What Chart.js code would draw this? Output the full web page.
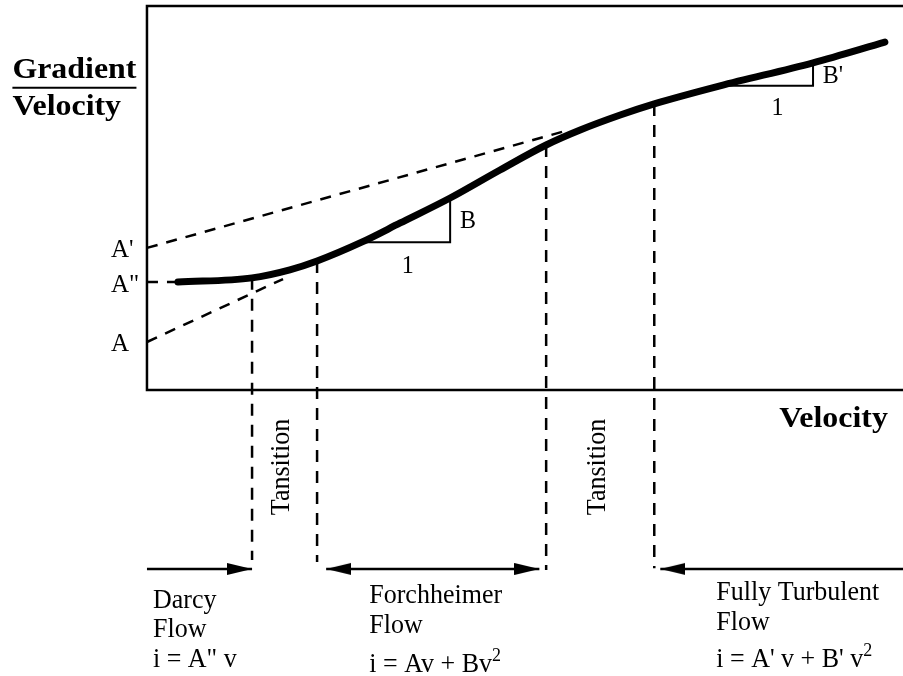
<!DOCTYPE html>
<html>
<head>
<meta charset="utf-8">
<script src="https://cdn.jsdelivr.net/npm/chart.js@4/dist/chart.umd.min.js"></script>
<style>
  html, body { margin: 0; padding: 0; background: #fff; }
  canvas { display: block; }
</style>
</head>
<body>
<canvas id="flow" width="903" height="676"></canvas>
<script>
// Gradient/velocity ratio against velocity, schematic units (0-100 on both axes)
const velocity            = [4.1, 13.9, 18.9, 22.5, 28.4, 33.5, 40.1, 46.7, 52.8, 57.3, 62.6, 67.1, 75.8, 88.1, 97.6];
const gradientPerVelocity = [28.1, 29.2, 31.3, 33.6, 38.5, 43.5, 50.0, 57.3, 63.8, 67.7, 71.6, 74.5, 79.2, 85.2, 90.6];

// Intercepts of the straight asymptotes on the vertical axis, and where each dashed line stops
const interceptNames  = ["A'", 'A"', 'A'];
const interceptValues = [37.0, 28.1, 12.5];
const asymptoteEndX   = [55.6, 4.0, 18.0];
const asymptoteEndY   = [67.6, 28.1, 28.9];

// Regime boundaries: index of the curve point each dashed drop line starts from, and its foot
const boundaryIndex = [1, 3, 8, 11];
const boundaryFoot  = [-44.3, -44.8, -46.9, -46.4];

// Slope triangles: run from one curve point to another
const slopeNames = ['B', "B'"];
const slopeFrom  = [4, 12];
const slopeTo    = [6, 13];

// Regime arrows below the velocity axis
const arrowRow      = -46.6;
const arrowFrom     = [0, 23.7, 100];
const arrowTo       = [13.9, 51.9, 67.9];
const arrowBothEnds = [false, true, false];

// Regime captions
const regimeNames     = ['Darcy', 'Forchheimer', 'Fully Turbulent'];
const regimeEquations = [
  [['i = A" v']],
  [['i = Av + Bv'], ['2', true]],
  [["i = A' v + B' v"], ['2', true]]
];
const transitionText = 'Tansition';

// ---------------------------------------------------------------------------
const SERIF = '"Liberation Serif", "Times New Roman", Times, serif';
const INK = '#000';

function arrowHead(len, half) {
  // tip sits at the centre of the image so the point position is the tip
  const c = document.createElement('canvas');
  c.width = len * 2;
  c.height = half * 2 + 2;
  const g = c.getContext('2d');
  g.fillStyle = INK;
  g.beginPath();
  g.moveTo(0, 1);
  g.lineTo(len, half + 1);
  g.lineTo(0, half * 2 + 1);
  g.closePath();
  g.fill();
  return c;
}
const head = arrowHead(25, 6);

const pt = (x, y) => ({ x, y });
const datasets = [];

// axis frame: top, left and bottom edges
datasets.push({
  data: [pt(100, 100), pt(0, 100), pt(0, 0), pt(100, 0)],
  borderColor: INK, borderWidth: 2.5, showLine: true, pointRadius: 0,
  borderJoinStyle: 'miter'
});

// dashed asymptotes
interceptValues.forEach((v, i) => {
  datasets.push({
    data: [pt(0, v), pt(asymptoteEndX[i], asymptoteEndY[i])],
    borderColor: INK, borderWidth: 2.5, borderDash: [11, 9], showLine: true, pointRadius: 0
  });
});

// dashed regime boundaries
boundaryIndex.forEach((idx, k) => {
  datasets.push({
    data: [pt(velocity[idx], gradientPerVelocity[idx]), pt(velocity[idx], boundaryFoot[k])],
    borderColor: INK, borderWidth: 2.5, borderDash: [12, 9], showLine: true, pointRadius: 0
  });
});

// slope triangles
slopeFrom.forEach((f, k) => {
  const t = slopeTo[k];
  datasets.push({
    data: [pt(velocity[f], gradientPerVelocity[f]), pt(velocity[t], gradientPerVelocity[f]), pt(velocity[t], gradientPerVelocity[t])],
    borderColor: INK, borderWidth: 2, showLine: true, pointRadius: 0, borderJoinStyle: 'miter'
  });
});

// the measured curve
datasets.push({
  data: velocity.map((v, i) => pt(v, gradientPerVelocity[i])),
  borderColor: INK, borderWidth: 7, showLine: true, pointRadius: 0,
  cubicInterpolationMode: 'monotone', borderCapStyle: 'round', borderJoinStyle: 'round'
});

// regime arrows
const heads = [], headRot = [];
arrowFrom.forEach((from, i) => {
  const to = arrowTo[i];
  datasets.push({
    data: [pt(from, arrowRow), pt(to, arrowRow)],
    borderColor: INK, borderWidth: 2.5, showLine: true, pointRadius: 0
  });
  heads.push(pt(to, arrowRow));
  headRot.push(to > from ? 0 : 180);
  if (arrowBothEnds[i]) {
    heads.push(pt(from, arrowRow));
    headRot.push(to > from ? 180 : 0);
  }
});
datasets.push({
  data: heads, showLine: false, pointStyle: head, pointRadius: 6,
  rotation: headRot, pointRotation: headRot
});

// ---------------------------------------------------------------------------
// text placed in data coordinates; bold titles are set wide, body text slightly tall
const BOLD = { size: 29, bold: true, sx: 1.1, sy: 1 };
const BODY = { sx: 1, sy: 1.05 };
const texts = [
  { ...BOLD, runs: [['Gradient']], x: -17.8, y: 81.2, underline: true },
  { ...BOLD, runs: [['Velocity']], x: -17.8, y: 71.6 },
  { ...BOLD, runs: [['Velocity']], x: 98.0, y: -9.6, align: 'right' },
  { ...BODY, runs: [[slopeNames[0]]], x: 41.4, y: 42.2, size: 24 },
  { ...BODY, runs: [['1']], x: 34.5, y: 30.5, size: 24, align: 'center' },
  { ...BODY, runs: [[slopeNames[1]]], x: 89.4, y: 79.9, size: 24 },
  { ...BODY, runs: [['1']], x: 83.4, y: 71.6, size: 24, align: 'center' },
  { ...BODY, runs: [[transitionText]], x: 18.8, y: -32.6, size: 26, rotate: true },
  { ...BODY, runs: [[transitionText]], x: 60.6, y: -32.6, size: 26, rotate: true }
];
interceptNames.forEach((n, i) => {
  texts.push({ ...BODY, runs: [[n]], x: -4.76, y: interceptValues[i], size: 25, pxDown: 9.5 });
});
const captionX = [0.79, 29.4, 75.3];
const captionY = [[-56.8, -64.3, -72.1], [-55.4, -63.4, -73.4], [-54.7, -62.5, -72.1]];
regimeNames.forEach((n, i) => {
  texts.push({ ...BODY, runs: [[n]], x: captionX[i], y: captionY[i][0], size: 26 });
  texts.push({ ...BODY, runs: [['Flow']], x: captionX[i], y: captionY[i][1], size: 26 });
  texts.push({ ...BODY, runs: regimeEquations[i], x: captionX[i], y: captionY[i][2], size: 26 });
});

const textPlugin = {
  id: 'flowText',
  afterDatasetsDraw(chart) {
    const { ctx, scales } = chart;
    ctx.save();
    ctx.fillStyle = INK;
    ctx.strokeStyle = INK;
    ctx.textBaseline = 'alphabetic';
    texts.forEach(t => {
      const px = scales.x.getPixelForValue(t.x);
      const py = scales.y.getPixelForValue(t.y) + (t.pxDown || 0);
      const mainFont = (t.bold ? 'bold ' : '') + t.size + 'px ' + SERIF;
      const supFont = Math.round(t.size * 0.7) + 'px ' + SERIF;
      let total = 0;
      const widths = t.runs.map(([s, sup]) => {
        ctx.font = sup ? supFont : mainFont;
        const w = ctx.measureText(s).width;
        total += w;
        return w;
      });
      ctx.save();
      ctx.translate(px, py);
      if (t.rotate) ctx.rotate(-Math.PI / 2);
      ctx.scale(t.sx, t.sy);
      let cx = 0;
      if (t.align === 'right') cx = -total;
      else if (t.align === 'center') cx = -total / 2;
      const start = cx;
      t.runs.forEach(([s, sup], k) => {
        ctx.font = sup ? supFont : mainFont;
        ctx.textAlign = 'left';
        ctx.fillText(s, cx, sup ? -t.size * 0.4 : 0);
        cx += widths[k];
      });
      if (t.underline) {
        ctx.lineWidth = 2;
        ctx.beginPath();
        ctx.moveTo(start, 9.5);
        ctx.lineTo(start + total, 9.5);
        ctx.stroke();
      }
      ctx.restore();
    });
    ctx.restore();
  }
};

new Chart(document.getElementById('flow'), {
  type: 'scatter',
  data: { datasets },
  options: {
    responsive: false,
    animation: false,
    events: [],
    layout: { padding: 0, autoPadding: false },
    plugins: { legend: { display: false }, tooltip: { enabled: false } },
    scales: {
      x: { type: 'linear', min: -19.44, max: 100, display: false },
      y: { type: 'linear', min: -74.48, max: 101.56, display: false }
    },
    elements: { line: { tension: 0 } }
  },
  plugins: [textPlugin]
});
</script>
</body>
</html>
